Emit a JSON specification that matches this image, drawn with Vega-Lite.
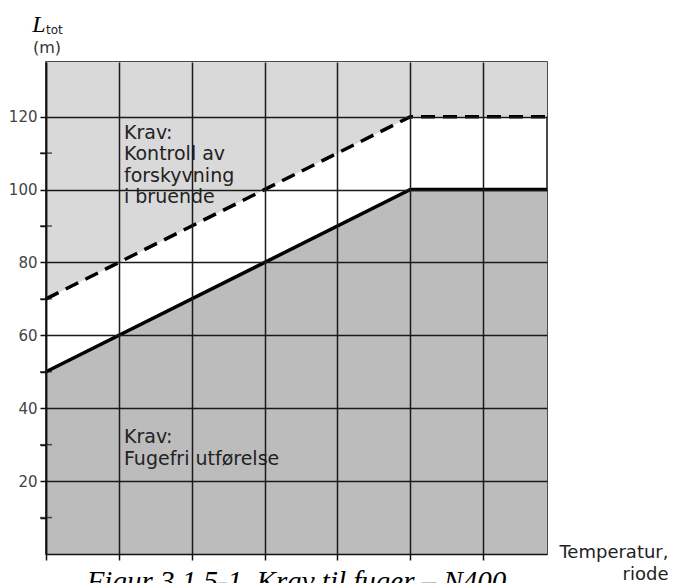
{
  "$schema": "https://vega.github.io/schema/vega-lite/v6.json",
  "width": 501,
  "height": 492,
  "autosize": {"type": "none"},
  "padding": {"left": 46, "top": 62, "right": 126, "bottom": 29},
  "background": "white",
  "config": {
    "view": {"stroke": "#111", "strokeWidth": 1.5},
    "font": "DejaVu Sans"
  },
  "title": {
    "text": "Figur 3.1.5-1. Krav til fuger – N400",
    "orient": "bottom",
    "anchor": "middle",
    "frame": "group",
    "font": "Liberation Serif",
    "fontStyle": "italic",
    "fontWeight": "normal",
    "fontSize": 29,
    "color": "#000",
    "offset": 0,
    "dy": -15
  },
  "datasets": {
    "lines": [
      {"t": 0, "solid": 50, "dashed": 70},
      {"t": 5, "solid": 100, "dashed": 120},
      {"t": 6.875, "solid": 100, "dashed": 120}
    ],
    "notes": [
      {"t": 1.07, "v": 118, "label": "Krav:\nKontroll av\nforskyvning\ni bruende"},
      {"t": 1.07, "v": 34.5, "label": "Krav:\nFugefri utførelse"}
    ],
    "ylabel": [{"t": -0.19, "v": 143.3, "label": "L"}],
    "ysub": [{"t": 0.0, "v": 142.6, "label": "tot"}],
    "minor": [{"v": 10}, {"v": 30}, {"v": 50}, {"v": 70}, {"v": 90}, {"v": 110}]
  },
  "layer": [
    {
      "data": {"name": "lines"},
      "mark": {"type": "area", "color": "#d9d9d9"},
      "encoding": {
        "x": {
          "field": "t", "type": "quantitative",
          "scale": {"domain": [0, 6.875], "nice": false, "zero": false},
          "axis": {
            "values": [0, 1, 2, 3, 4, 5, 6],
            "labels": false,
            "tickSize": 6, "tickWidth": 1.5, "tickColor": "#111",
            "domainColor": "#111", "domainWidth": 1.5,
            "grid": true, "gridColor": "#1a1a1a", "gridWidth": 1.5, "gridOpacity": 1,
            "zindex": 1,
            "title": ["Temperatur,", "riode"],
            "titleX": 622, "titleY": 3,
            "titleAlign": "right", "titleBaseline": "alphabetic",
            "titleFontSize": 18, "titleFontWeight": "normal", "titleColor": "#222",
            "titleLineHeight": 22
          }
        },
        "y": {
          "field": "dashed", "type": "quantitative",
          "scale": {"domain": [0, 135], "nice": false},
          "axis": {
            "values": [10, 20, 30, 40, 50, 60, 70, 80, 90, 100, 110, 120],
            "labelExpr": "datum.value % 20 === 0 ? datum.label : ''",
            "labelFontSize": 15, "labelColor": "#444", "labelPadding": 3,
            "tickSize": 6, "tickWidth": 1.5, "tickColor": "#111",
            "domainColor": "#111", "domainWidth": 1.5,
            "grid": true, "gridColor": "#1a1a1a", "gridWidth": 1.5,
            "gridOpacity": {"condition": {"test": "datum.value % 20 === 0", "value": 1}, "value": 0},
            "zindex": 1,
            "title": "(m)",
            "titleAngle": 0, "titleX": 0.5, "titleY": -15,
            "titleAlign": "center", "titleBaseline": "middle",
            "titleFontSize": 16, "titleFontWeight": "normal", "titleColor": "#333"
          }
        },
        "y2": {"datum": 135}
      }
    },
    {
      "data": {"name": "lines"},
      "mark": {"type": "area", "color": "#bcbcbc"},
      "encoding": {
        "x": {"field": "t", "type": "quantitative"},
        "y": {"field": "solid", "type": "quantitative"},
        "y2": {"datum": 0}
      }
    },
    {
      "data": {"name": "lines"},
      "mark": {"type": "line", "color": "#000", "strokeWidth": 3.5},
      "encoding": {
        "x": {"field": "t", "type": "quantitative"},
        "y": {"field": "solid", "type": "quantitative"}
      }
    },
    {
      "data": {"name": "lines"},
      "mark": {"type": "line", "color": "#000", "strokeWidth": 3.5, "strokeDash": [14, 8]},
      "encoding": {
        "x": {"field": "t", "type": "quantitative"},
        "y": {"field": "dashed", "type": "quantitative"}
      }
    },
    {
      "data": {"name": "notes"},
      "mark": {"type": "text", "align": "left", "baseline": "top", "lineBreak": "\n", "fontSize": 19, "lineHeight": 21.5, "color": "#222"},
      "encoding": {
        "x": {"field": "t", "type": "quantitative"},
        "y": {"field": "v", "type": "quantitative"},
        "text": {"field": "label"}
      }
    },
    {
      "data": {"name": "ylabel"},
      "mark": {"type": "text", "align": "left", "baseline": "alphabetic", "font": "Liberation Serif", "fontStyle": "italic", "fontSize": 24, "color": "#000"},
      "encoding": {
        "x": {"field": "t", "type": "quantitative"},
        "y": {"field": "v", "type": "quantitative"},
        "text": {"field": "label"}
      }
    },
    {
      "data": {"name": "ysub"},
      "mark": {"type": "text", "align": "left", "baseline": "alphabetic", "fontSize": 12, "color": "#222"},
      "encoding": {
        "x": {"field": "t", "type": "quantitative"},
        "y": {"field": "v", "type": "quantitative"},
        "text": {"field": "label"}
      }
    },
    {
      "data": {"name": "minor"},
      "mark": {"type": "tick", "orient": "horizontal", "size": 12, "thickness": 1.5, "color": "#111"},
      "encoding": {
        "x": {"datum": 0, "type": "quantitative"},
        "y": {"field": "v", "type": "quantitative"}
      }
    }
  ]
}
